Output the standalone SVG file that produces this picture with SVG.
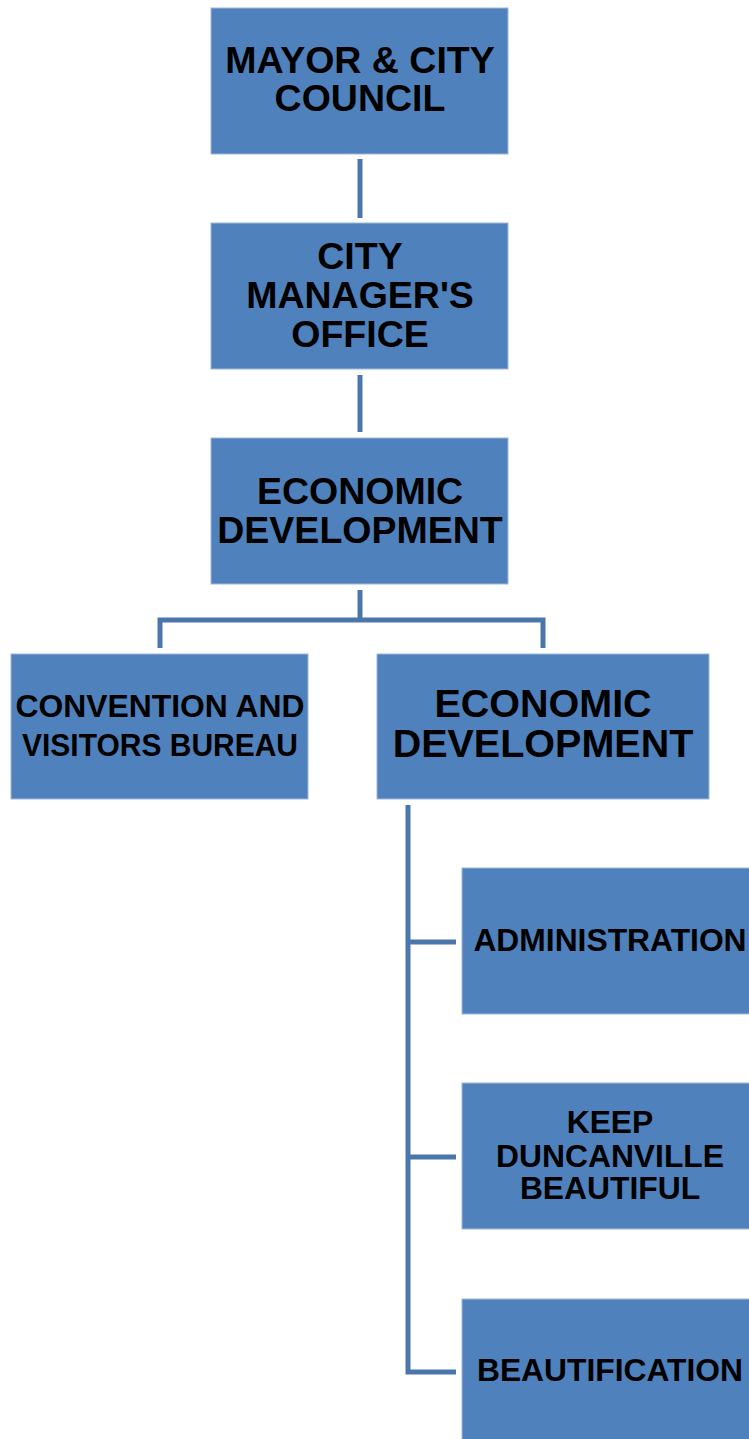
<svg xmlns="http://www.w3.org/2000/svg" width="749" height="1439" viewBox="0 0 749 1439">
  <style>
    .box { fill: #4F81BD; stroke: #9DB7DA; stroke-width: 1; }
    .lbl { font-family: "Liberation Sans", Arial, sans-serif; font-weight: bold; fill: #000; text-anchor: middle; }
    .big { font-size: 37.5px; }
    .sub { font-size: 31.8px; }
    .link { fill: none; stroke: #4A76AC; stroke-width: 5; }
  </style>
  <rect x="0" y="0" width="749" height="1439" fill="#ffffff"/>

  <!-- connectors -->
  <g id="connectors">
    <line class="link" x1="360" y1="159" x2="360" y2="218"/>
    <line class="link" x1="360" y1="375" x2="360" y2="432"/>
    <polyline class="link" points="360,590 360,620"/>
    <polyline class="link" points="160,648 160,620 543,620 543,648"/>
    <polyline class="link" points="408,805 408,1372 456,1372"/>
    <line class="link" x1="408" y1="942" x2="456" y2="942"/>
    <line class="link" x1="408" y1="1157" x2="456" y2="1157"/>
  </g>

  <!-- nodes -->
  <g id="mayor">
    <rect class="box" x="211" y="8" width="297" height="146"/>
    <text class="lbl big" x="360" y="73">MAYOR &amp; CITY</text>
    <text class="lbl big" x="360" y="111">COUNCIL</text>
  </g>
  <g id="city-manager">
    <rect class="box" x="211" y="223" width="297" height="146"/>
    <text class="lbl big" x="360" y="269">CITY</text>
    <text class="lbl big" x="360" y="308">MANAGER'S</text>
    <text class="lbl big" x="360" y="347">OFFICE</text>
  </g>
  <g id="economic-dev">
    <rect class="box" x="211" y="438" width="297" height="146"/>
    <text class="lbl big" x="360" y="504">ECONOMIC</text>
    <text class="lbl big" x="360" y="543">DEVELOPMENT</text>
  </g>
  <g id="convention">
    <rect class="box" x="11" y="654" width="297" height="145"/>
    <text class="lbl" font-size="31.5" x="160" y="717" textLength="289" lengthAdjust="spacingAndGlyphs">CONVENTION AND</text>
    <text class="lbl" font-size="31.5" x="160" y="756" textLength="276" lengthAdjust="spacingAndGlyphs">VISITORS BUREAU</text>
  </g>
  <g id="economic-dev-2">
    <rect class="box" x="377" y="654" width="332" height="145"/>
    <text class="lbl" font-size="39.5" x="543" y="717">ECONOMIC</text>
    <text class="lbl" font-size="39.5" x="543" y="757">DEVELOPMENT</text>
  </g>
  <g id="administration">
    <rect class="box" x="462" y="868" width="297" height="146"/>
    <text class="lbl sub" x="610" y="951">ADMINISTRATION</text>
  </g>
  <g id="keep-duncanville">
    <rect class="box" x="462" y="1083" width="297" height="146"/>
    <text class="lbl sub" x="610" y="1133">KEEP</text>
    <text class="lbl sub" x="610" y="1167">DUNCANVILLE</text>
    <text class="lbl sub" x="610" y="1199">BEAUTIFUL</text>
  </g>
  <g id="beautification">
    <rect class="box" x="462" y="1299" width="297" height="146"/>
    <text class="lbl sub" x="610" y="1381">BEAUTIFICATION</text>
  </g>
</svg>
